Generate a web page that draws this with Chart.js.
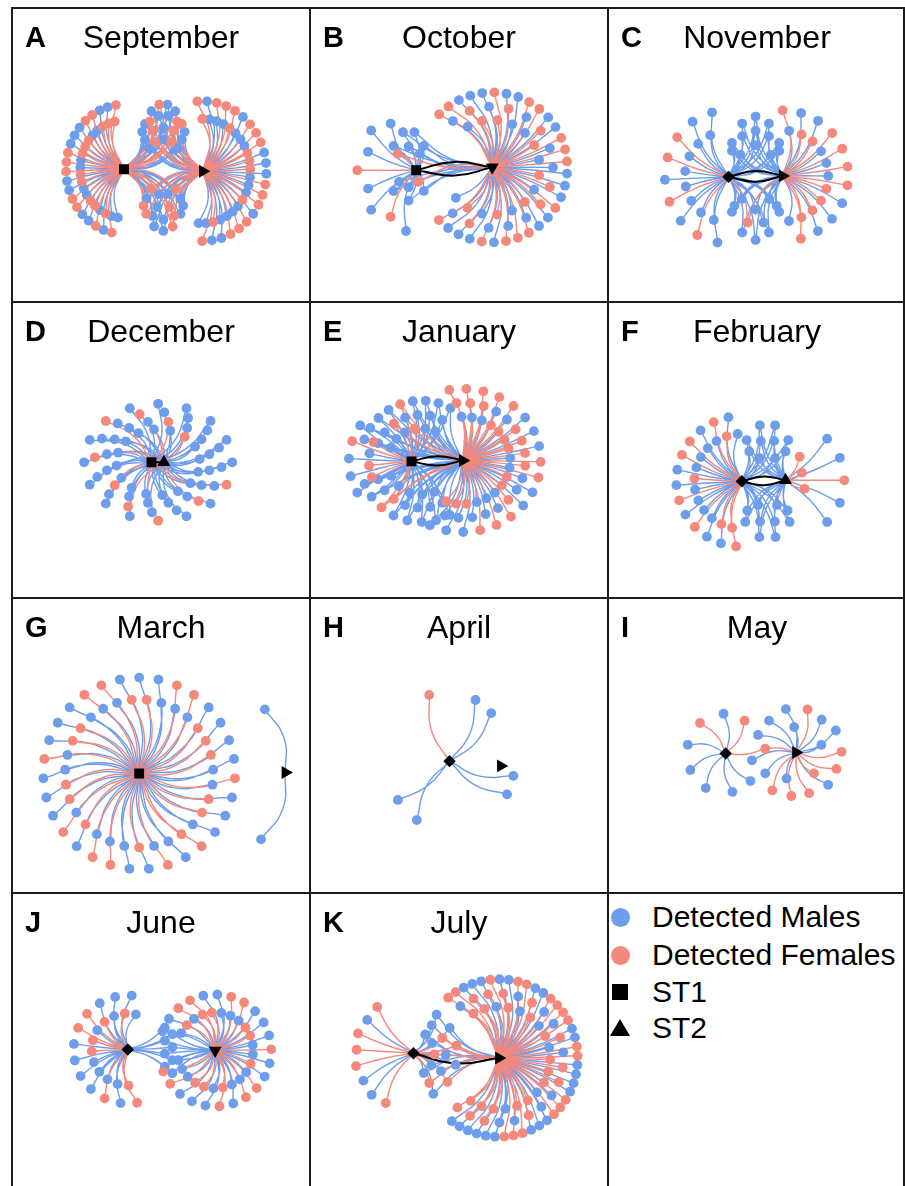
<!DOCTYPE html>
<html><head><meta charset="utf-8">
<title>Detection networks by month</title>
<script src="https://cdn.jsdelivr.net/npm/chart.js@4.4.1/dist/chart.umd.min.js"></script>
<style>
html,body{margin:0;padding:0;background:#fff;}
body{width:905px;height:1186px;position:relative;overflow:hidden;font-family:"Liberation Sans",Arial,Helvetica,sans-serif;color:#000;}
.ln{position:absolute;background:#1c1c1c;z-index:5;}
.panel{position:absolute;width:298px;height:294px;}
.panel canvas{position:absolute;left:0;top:0;}
.let{position:absolute;left:13px;top:15px;font-weight:bold;font-size:29px;line-height:29px;z-index:2;}
.mon{position:absolute;left:0;width:298px;text-align:center;top:13px;font-size:32px;line-height:32px;z-index:2;}
.leg{position:absolute;left:652px;font-size:30px;line-height:30px;white-space:nowrap;}
.mk{position:absolute;}
</style></head><body>
<script>
// ---------------- DATA ----------------
const months  = ["September","October","November","December","January","February","March","April","May","June","July"];
const letters = ["A","B","C","D","E","F","G","H","I","J","K"];
// number of ST1-ST2 links drawn in black
const stationLinks = [0,2,2,1,2,2,0,0,0,0,1];
// Detected fish in angular order: M = detected male, F = detected female
const sepST1      = "FFMFMFFMFMMFMFMFFMFMFFMFMMFMFFMFMMFFMMFM";
const sepBothUp   = "MMFMMFMFMMFMMFMFMMFMFM";
const sepBothDown = "MFMMFMFMMFMFMMFMMF";
const sepST2      = "FFMMFMFMFFMMFMFMFFMFMFMMFMFMFFMMFMFMFMMFMMFM";
const octST1      = "MFMMFMMM";
const octBothUp   = "MMMMFMM";
const octBothDown = "MMMFMM";
const octST2      = "FMFMMFMFMMFFMFMMFMFMMFMFFMFMFMMFMFMMFFMFMMFMFMFFMMFMMFMFMMFM";
const novST1      = "MMFMMMFMMMFMFMMMM";
const novBothUp   = "MMMMMMMMMMMMM";
const novBothDown = "MMMMMMMFMMMM";
const novST2      = "FMMFMFFMFMFMFFMFMFMFFM";
const decST1      = "MMFMMMMMFMMMMFMMMMMMFMMMMFMMMMMM";
const decST2      = "MMMMFMMMMMFMMMMMFMMMMMFMMMMFMMMM";
const janST1      = "MFMFMMFFM";
const janBothUp   = "MMMMFMMMMMMFMMMMMMMFMM";
const janBothDown = "MMMMMFMMMMMMFMMMMMMM";
const janST2      = "FFMFFMFFMFMFFMFMFFMFFMFMFFMFMFMMFMFMFMMFMMFMFMMFMMFM";
const febST1      = "FFMFMMFMMMFMMFMMFMFMMMFFMM";
const febBothUp   = "MMMMMMMMMM";
const febBothDown = "MMMMMMMMMM";
const febST2      = "MMFMM";
const febST2near  = "FFF";
const marST1      = "MFMMFMFMMFMFMFMMFMMFMFMMFFMMFMMFMMFMFMMFFMMFMFMMFMMFMFMMFMFMMF";
const marST2      = "MM";
const aprST1      = "FMMMMMM";
const mayST1      = "MMMMMFMF";
const mayBoth     = "F";
const mayST2      = "MFMMMFFMFFFFMMMMMM";
const junST1      = "FFMMFMMMMMMFMFFMFFMMMFMM";
const junBoth     = "MMMMMMMM";
const junST2      = "MMMFFMFFMFMMFMFMMFMFMMFMMFMMFMFMMFFMMFMFMMFMFM";
const julST1      = "FMMFFFMF";
const julBoth     = "MMFMFMMFMMFMMFMM";
const julST2      = "FMFFMFMFMFFMMFMFFMFMMFMFFMFMFMFFMFMMFMFFMFMFMFMFFMFMFMMFMFMFFMFMFMMFMFMFMFMFMF";

// ---------------- STYLE / LAYOUT ----------------
const BLUE = "#6D9DEB", RED = "#F4887B";
const PW = 298, PH = 294;
const colX = [12,310,608], rowY = [8,302,598,893];
// to: 1 = linked to ST1, 2 = linked to ST2, 3 = linked to both
const layouts = [
 { s1:[110,162], s2:[193,164], s1Shape:'rect', s2Rot:90, link:[], groups:[
   {d:sepST1, to:1, c:'s1', a0:262, a1:98, r:[61,46], sy:1.12, b:0.15, mode:'away', ref:'s2'},
   {d:sepBothUp, to:3, kind:'rings', c:'mid', a0:-145, a1:-35, rings:[[27,70,6],[31,58,6],[28,45,5],[22,32,5]], b:0.15, mode:'toward', ref:'mid'},
   {d:sepBothDown, to:3, kind:'rings', c:'mid', a0:35, a1:145, rings:[[26,64,5],[30,52,5],[27,40,4],[20,26,4]], b:0.15, mode:'toward', ref:'mid'},
   {d:sepST2, to:2, c:'s2', a0:-95, a1:95, r:[67,50], sy:1.1, b:0.15, mode:'away', ref:'s1'} ]},
 { s1:[104,163], s2:[184,160], s1Shape:'rect', s2Rot:180, link:[0.09,0.09], groups:[
   {d:octST1, to:1, c:'s1', a0:100, a1:240, r:[62,54], sy:1.05, b:0.12, mode:'away', ref:'s2'},
   {d:octBothUp, to:3, kind:'rings', c:[96,163], a0:-160, a1:-20, rings:[[20,42,4],[16,25,3]], b:0.12, mode:'toward', ref:'mid'},
   {d:octBothDown, to:3, kind:'rings', c:[96,163], a0:20, a1:160, rings:[[22,32,3],[14,18,3]], b:0.12, mode:'toward', ref:'mid'},
   {d:octST2, to:2, c:'s2', a0:-135, a1:140, r:[79,64,79,50], b:0.12, mode:'away', ref:'s1'} ]},
 { s1:[119,170], s2:[176,169], s1Shape:'rectRot', s2Rot:90, link:[0.1,0.1], groups:[
   {d:novST1, to:1, c:'s1', a0:100, a1:255, r:[67,46], sy:1.05, b:0.15, mode:'away', ref:'s2'},
   {d:novBothUp, to:3, kind:'rings', c:'mid', a0:-160, a1:-20, rings:[[30,63,5],[30,48,5],[22,33,3]], b:0.15, mode:'toward', ref:'mid'},
   {d:novBothDown, to:3, kind:'rings', c:'mid', a0:20, a1:160, rings:[[30,67,5],[28,51,4],[20,35,3]], b:0.15, mode:'toward', ref:'mid'},
   {d:novST2, to:2, c:'s2', a0:-90, a1:82, r:[69,48], b:0.15, mode:'away', ref:'s1'} ]},
 { s1:[139,161], s2:[152,161], s1Shape:'rect', s2Rot:0, link:[0], groups:[
   {d:decST1, to:1, c:[146,161], full:true, a0:0, r:[78,55], sy:0.79, b:0.12},
   {d:decST2, to:2, c:[146,161], full:true, a0:5.6, r:[67,44], sy:0.79, b:0.12} ]},
 { s1:[99,160], s2:[153,159], s1Shape:'rect', s2Rot:90, link:[0.09,0.09], groups:[
   {d:janST1, to:1, c:'s1', a0:150, a1:215, r:[66,45], b:0.1, mode:'away', ref:'s2'},
   {d:janBothUp, to:3, kind:'rings', c:[109,160], a0:-165, a1:-55, rings:[[64,64,9],[49,49,7],[35,35,6]], b:0.12, mode:'toward', ref:'mid'},
   {d:janBothDown, to:3, kind:'rings', c:[109,160], a0:55, a1:165, rings:[[64,64,8],[49,49,7],[35,35,5]], b:0.12, mode:'toward', ref:'mid'},
   {d:janST2, to:2, c:'s2', a0:-100, a1:115, r:[82,66,50], sy:0.92, b:0.12, mode:'away', ref:'s1'} ]},
 { s1:[133,181], s2:[179,180], s1Shape:'rectRot', s2Rot:0, link:[0.1,0.1], groups:[
   {d:febST1, to:1, c:'s1', a0:95, a1:265, r:[69,50], b:0.15, mode:'away', ref:'s2'},
   {d:febBothUp, to:3, kind:'rings', c:[160,180], a0:-150, a1:-30, rings:[[31,60,4],[27,43,4],[16,27,2]], b:0.14, mode:'toward', ref:'mid'},
   {d:febBothDown, to:3, kind:'rings', c:[160,180], a0:30, a1:150, rings:[[33,62,4],[30,45,4],[20,30,2]], b:0.14, mode:'toward', ref:'mid'},
   {d:febST2, to:2, c:'s2', a0:-45, a1:45, r:[62], b:0.12, mode:'away', ref:'s1'},
   {d:febST2near, to:2, c:'s2', ang:[-59,-25,24], r:[29,19,22], b:0.1} ]},
 { s1:[126,177], s2:[280,176], s1Shape:'rect', s2Rot:90, link:[], groups:[
   {d:marST1, to:1, c:'s1', full:true, a0:-90, r:[101,78], b:0.12},
   {d:marST2, to:2, c:'s2', ang:[-108,110], r:[70,75], b:[0.14,-0.14]} ]},
 { s1:[139,164], s2:[193,169], s1Shape:'rectRot', s2Rot:90, link:[], groups:[
   {d:aprST1, to:1, c:'s1', ang:[-107,-67,-49,13,30,119,143], r:[73,70,67,69,70,71,68], b:[-0.12,0.12,0.12,0.12,0.12,0.12,-0.1]} ]},
 { s1:[116,156], s2:[190,155], s1Shape:'rectRot', s2Rot:90, link:[], groups:[
   {d:mayST1, to:1, c:'s1', ang:[48,80,120,155,193,230,267,300], r:[39,41,42,41,41,42,42,40], b:0.12},
   {d:mayBoth, to:3, c:'s1', ang:[-7], r:[42], b:0.08},
   {d:mayST2, to:2, c:'s2', ang:[-103,-75,-52,-29,-17,-1,22,45,49,72,96,122,110,146,170,205,230,266], r:[47,47,44,48,28,48,46,48,29,45,46,47,29,39,47,44,44,27], b:0.12} ]},
 { s1:[114,157], s2:[206,158], s1Shape:'rectRot', s2Rot:180, link:[], groups:[
   {d:junST1, to:1, c:'s1', a0:80, a1:283, r:[57,38], b:0.15, mode:'away', ref:'s2'},
   {d:junBoth, to:3, kind:'column', c:[156,158], h:24, dx:[-3,5], b:0.1, mode:'toward', ref:'mid'},
   {d:junST2, to:2, c:'s2', a0:-160, a1:165, r:[59,40], b:0.15, mode:'away', ref:'s1'} ]},
 { s1:[101,161], s2:[191,166], s1Shape:'rectRot', s2Rot:90, link:[0.09], groups:[
   {d:julST1, to:1, c:'s1', a0:119, a1:232, r:[60,62], b:0.12, mode:'away', ref:'s2'},
   {d:julBoth, to:3, kind:'rings', c:'s1', a0:-70, a1:75, rings:[[46,48,6],[34,36,5],[22,24,5]], b:0.12, mode:'toward', ref:'mid'},
   {d:julST2, to:2, c:'s2', a0:-130, a1:130, r:[83,68,83,54], b:0.12, mode:'away', ref:'s1'} ]}
];

function placeGroup(g, c){
  const seq = g.d, n = seq.length, out = [];
  if (g.kind === 'rings'){
    let idx = 0;
    g.rings.forEach(([rx,ry,k])=>{
      for (let j=0; j<k && idx<n; j++, idx++){
        const a = (g.a0 + (g.a1-g.a0)*(j+0.5)/k) * Math.PI/180;
        out.push({x:c[0]+rx*Math.cos(a), y:c[1]+ry*Math.sin(a), sex:seq[idx]});
      }
    });
    return out;
  }
  for (let i=0;i<n;i++){
    let x,y;
    if (g.kind === 'column'){
      x = c[0] + g.dx[i % g.dx.length];
      y = c[1] - g.h + 2*g.h*(n>1 ? i/(n-1) : 0.5);
    } else {
      const deg = g.ang ? g.ang[i] : g.full ? g.a0 + 360*i/n : (n>1 ? g.a0 + (g.a1-g.a0)*i/(n-1) : (g.a0+g.a1)/2);
      const r = g.r[i % g.r.length], a = deg*Math.PI/180;
      x = c[0] + r*Math.cos(a); y = c[1] + r*(g.sy||1)*Math.sin(a);
    }
    out.push({x,y,sex:seq[i]});
  }
  return out;
}

function edge(p, q, b, ref, mode){
  const dx=q.x-p.x, dy=q.y-p.y, len=Math.hypot(dx,dy)||1;
  const px=-dy/len, py=dx/len;
  const mx=(p.x+q.x)/2, my=(p.y+q.y)/2;
  let k = b*len;
  if (ref && mode){
    const rx=mx-ref[0], ry=my-ref[1], rl=Math.hypot(rx,ry)||1;
    const d=(px*rx+py*ry)/rl;
    k = Math.abs(b)*len*(mode==='away' ? d : -d);
  }
  return [{x:p.x,y:p.y},{x:mx+px*k,y:my+py*k},{x:q.x,y:q.y},{x:q.x,y:null}];
}

function build(cv, L, nLinks){
  const mid=[(L.s1[0]+L.s2[0])/2,(L.s1[1]+L.s2[1])/2];
  const pt = k => k==='s1'?L.s1 : k==='s2'?L.s2 : k==='mid'?mid : k;
  const S1={x:L.s1[0],y:L.s1[1]}, S2={x:L.s2[0],y:L.s2[1]};
  const blueN=[],redN=[],blueE=[],redE=[],blackE=[];
  L.groups.forEach(g=>{
    const nodes = placeGroup(g, pt(g.c));
    const ref = g.ref ? pt(g.ref) : null;
    nodes.forEach((p,j)=>{
      const b = Array.isArray(g.b) ? g.b[j % g.b.length] : (g.b ?? 0.1);
      const E = p.sex==='F' ? redE : blueE;
      if (g.to & 1) E.push(...edge(S1,p,b,ref,g.mode));
      if (g.to & 2) E.push(...edge(S2,p,b,ref,g.mode));
      (p.sex==='F' ? redN : blueN).push({x:p.x,y:p.y});
    });
  });
  if (nLinks>=1) blackE.push(...edge(S1,S2,L.link[0]||0,null,null));
  if (nLinks>=2) blackE.push(...edge(S2,S1,L.link[1]||0,null,null));
  const lineDs = (data,color,w,order)=>({type:'line',data,borderColor:color,borderWidth:w,pointRadius:0,pointHoverRadius:0,tension:0.5,fill:false,spanGaps:false,order});
  const ptDs = (data,color,style,radius,rot,order)=>({type:'scatter',data,pointStyle:style,pointRadius:radius,pointRotation:rot,pointBackgroundColor:color,pointBorderColor:color,pointBorderWidth:0,backgroundColor:color,borderColor:color,order});
  const datasets = [
    ptDs([S1],'#000',L.s1Shape, L.s1Shape==='rect'?7:6.2, 0, 0),
    ptDs([S2],'#000','triangle',7.5,L.s2Rot,0),
    ptDs(redN,RED,'circle',4.9,0,1),
    ptDs(blueN,BLUE,'circle',4.9,0,1),
    lineDs(blackE,'#000',2,2),
    lineDs(redE,RED,1.4,3),
    lineDs(blueE,BLUE,1.4,4)
  ];
  new Chart(cv,{type:'scatter',data:{datasets},options:{
    responsive:false,animation:false,devicePixelRatio:1,events:[],
    layout:{padding:0},
    plugins:{legend:{display:false},tooltip:{enabled:false}},
    scales:{x:{type:'linear',min:0,max:PW,display:false},y:{type:'linear',min:0,max:PH,reverse:true,display:false}}
  }});
}

layouts.forEach((L,i)=>{
  const ox=colX[i%3], oy=rowY[Math.floor(i/3)];
  const div=document.createElement('div'); div.className='panel';
  div.style.left=ox+'px'; div.style.top=oy+'px';
  const cv=document.createElement('canvas'); cv.width=PW; cv.height=PH;
  cv.style.width=PW+'px'; cv.style.height=PH+'px';
  div.appendChild(cv);
  const lt=document.createElement('div'); lt.className='let'; lt.textContent=letters[i]; div.appendChild(lt);
  const mt=document.createElement('div'); mt.className='mon'; mt.textContent=months[i]; div.appendChild(mt);
  document.body.appendChild(div);
  build(cv,L,stationLinks[i]);
});

// legend
function addEl(cls, css, text){
  const e=document.createElement('div'); e.className=cls; Object.assign(e.style,css);
  if(text) e.textContent=text; document.body.appendChild(e); return e;
}
addEl('mk',{left:'611px',top:'908px',width:'19px',height:'19px',borderRadius:'50%',background:BLUE});
addEl('leg',{top:'902px'},'Detected Males');
addEl('mk',{left:'611px',top:'946px',width:'19px',height:'19px',borderRadius:'50%',background:RED});
addEl('leg',{top:'940px'},'Detected Females');
addEl('mk',{left:'612px',top:'984px',width:'16px',height:'16px',background:'#000'});
addEl('leg',{top:'977px'},'ST1');
addEl('mk',{left:'610px',top:'1019px',width:'0',height:'0',borderLeft:'10px solid transparent',borderRight:'10px solid transparent',borderBottom:'17px solid #000'});
addEl('leg',{top:'1013px'},'ST2');

// frame lines
[[11,7,894,2],[11,301,894,2],[11,597,894,2],[11,892,894,2]].forEach(([l,t,w,h])=>addEl('ln',{left:l+'px',top:t+'px',width:w+'px',height:h+'px'}));
[[11,7,2,1179],[309,7,2,1179],[607,7,2,1179],[903,7,2,1179]].forEach(([l,t,w,h])=>addEl('ln',{left:l+'px',top:t+'px',width:w+'px',height:h+'px'}));
</script>
</body></html>
